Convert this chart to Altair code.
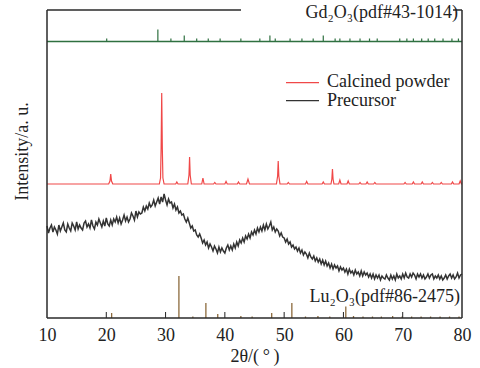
import altair as alt
import pandas as pd

FONT = "Liberation Serif, Times New Roman, serif"
TXT = "#222222"

# ---------------- data ----------------
X_TICKS = [10, 20, 30, 40, 50, 60, 70, 80]

# Precursor (amorphous) pattern, 2theta grid 10..80 step 0.25, intensity in plot units
PRE_X0 = 10.0
PRE_DX = 0.25
PRE_H = [
    92, 85, 90, 93,    # 10
    86, 91, 88, 84,    # 11
    93, 87, 91, 95,    # 12
    88, 86, 94, 90,    # 13
    87, 95, 92, 88,    # 14
    96, 89, 93, 90,    # 15
    88, 95, 97, 91,    # 16
    94, 90, 98, 92,    # 17
    89, 96, 93, 99,    # 18
    95, 91, 97, 92,    # 19
    100, 94, 92, 98,   # 20
    93, 99, 96, 101,   # 21
    95, 100, 94, 98,   # 22
    103, 97, 101, 96,  # 23
    99, 105, 102, 98,  # 24
    107, 101, 106, 104,# 25
    105, 111, 107, 112,# 26
    109, 115, 111, 113,# 27
    118, 112, 116, 120,# 28
    114, 121, 116, 124,# 29
    118, 113, 119, 115,# 30
    116, 110, 114, 108,# 31
    111, 105, 107, 103,# 32
    104, 99, 96, 100,  # 33
    95, 90, 92, 87,    # 34
    88, 83, 81, 84,    # 35
    80, 75, 78, 73,    # 36
    76, 70, 74, 71,    # 37
    67, 72, 69, 65,    # 38
    71, 66, 70, 67,    # 39
    65, 70, 73, 68,    # 40
    72, 68, 74, 70,    # 41
    76, 72, 78, 75,    # 42
    80, 76, 82, 79,    # 43
    84, 80, 86, 83,    # 44
    88, 84, 90, 86,    # 45
    91, 87, 93, 88,    # 46
    94, 89, 92, 96,    # 47
    88, 91, 86, 89,    # 48
    87, 82, 85, 81,    # 49
    80, 76, 79, 74,    # 50
    76, 71, 73, 69,    # 51
    71, 67, 70, 65,    # 52
    68, 63, 66, 64,    # 53
    60, 65, 61, 59,    # 54
    62, 57, 60, 56,    # 55
    59, 54, 58, 53,    # 56
    57, 52, 55, 50,    # 57
    54, 49, 53, 50,    # 58
    52, 47, 51, 48,    # 59
    50, 46, 49, 44,    # 60
    49, 45, 47, 43,    # 61
    48, 44, 46, 42,    # 62
    47, 42, 46, 43,    # 63
    45, 41, 44, 40,    # 64
    44, 39, 43, 40,    # 65
    43, 38, 42, 40,    # 66
    39, 43, 40, 38,    # 67
    43, 39, 42, 38,    # 68
    44, 40, 42, 39,    # 69
    44, 40, 45, 41,    # 70
    40, 44, 41, 45,    # 71
    43, 39, 44, 41,    # 72
    44, 40, 43, 39,    # 73
    41, 44, 40, 43,    # 74
    44, 39, 42, 40,    # 75
    43, 39, 42, 38,    # 76
    40, 43, 39, 42,    # 77
    44, 40, 43, 39,    # 78
    41, 45, 40, 43,    # 79
    44,                # 80
]

# Calcined powder pattern (2theta, intensity)
CAL_X = [10.0,
         20.4, 20.62, 20.75, 20.88, 21.1,
         28.95, 29.15, 29.25, 29.35, 29.45, 29.55, 29.75,
         31.7, 31.9, 32.1,
         33.75, 33.95, 34.05, 34.15, 34.35,
         36.1, 36.3, 36.5,
         38.1, 38.3, 38.5,
         40.0, 40.2, 40.4,
         42.1, 42.3, 42.5,
         43.65, 43.9, 44.15,
         48.7, 48.9, 49.0, 49.1, 49.3,
         50.5, 50.7, 50.9,
         53.6, 53.8, 54.0,
         56.4, 56.6, 56.8,
         57.9, 58.05, 58.15, 58.25, 58.4,
         59.2, 59.4, 59.6,
         60.6, 60.8, 61.0,
         62.6, 62.8, 63.0,
         63.8, 64.0, 64.2,
         65.1, 65.3, 65.5,
         70.2, 70.4, 70.6,
         71.6, 71.8, 72.0,
         73.1, 73.3, 73.5,
         74.8, 75.0, 75.2,
         76.3, 76.5, 76.7,
         78.2, 78.4, 78.6,
         79.5, 79.7, 79.9, 80.0]
CAL_H = [134,
         134, 137, 144, 137, 134,
         134, 140, 170, 225, 170, 140, 134,
         134, 136, 134,
         134, 143, 161, 143, 134,
         134, 140, 134,
         134, 135.5, 134,
         134, 136.5, 134,
         134, 136, 134,
         134, 139, 134,
         134, 142, 157, 142, 134,
         134, 135.5, 134,
         134, 136.5, 134,
         134, 136, 134,
         134, 139, 149, 139, 134,
         134, 138, 134,
         134, 137, 134,
         134, 135.5, 134,
         134, 136, 134,
         134, 135.5, 134,
         134, 135.5, 134,
         134, 136, 134,
         134, 136, 134,
         134, 135.5, 134,
         134, 135.5, 134,
         134, 136, 134,
         134, 137, 134, 134]

# Gd2O3 reference sticks (pdf#43-1014)
GD_BASE = 276.5
GD_POS = [20.07, 28.7, 30.9, 33.15, 35.25, 37.2, 39.2, 42.7, 45.9, 47.6, 48.5,
          51.0, 53.0, 54.9, 56.6, 58.6, 59.4, 61.1, 62.8, 64.4, 65.7, 69.5,
          70.7, 71.8, 73.2, 74.3, 75.4, 76.8, 78.3, 79.4]
GD_H = [3, 12, 3, 6, 3, 3, 3, 3, 3, 6, 3,
        3, 3, 3, 6, 3, 3, 3, 3, 3, 3, 3,
        3, 3, 3, 3, 3, 3, 3, 3]

# Lu2O3 reference sticks (pdf#86-2475)
LU_POS = [20.9, 32.25, 34.6, 36.8, 38.8, 42.7, 44.6, 47.9, 51.3, 53.6, 55.7,
          57.7, 60.4, 61.7, 63.3, 64.9, 66.4, 68.3, 69.9, 71.5, 73.1, 74.7,
          76.3, 77.9, 79.5]
LU_H = [5, 42, 1.5, 15, 4, 2, 1.5, 5, 15, 1.5, 2,
        1.5, 11.5, 2, 1.5, 1.5, 1.5, 2, 1.5, 1.5, 1.5, 1.5,
        1.5, 1.5, 1.5]

# ---------------- tables ----------------
pre_df = pd.DataFrame({"x": [PRE_X0 + PRE_DX * i for i in range(len(PRE_H))], "h": PRE_H})
cal_df = pd.DataFrame({"x": CAL_X, "h": CAL_H})
gd_df = pd.DataFrame({"x": GD_POS, "h": [GD_BASE] * len(GD_POS),
                      "h1": [GD_BASE + v for v in GD_H]})
lu_df = pd.DataFrame({"x": LU_POS, "h": [0] * len(LU_POS), "h1": LU_H})
tick_df = pd.DataFrame({"x": X_TICKS[1:-1]})
one = pd.DataFrame({"a": [0]})

W, H = 415, 308
xs = alt.Scale(domain=[10, 80], nice=False, zero=False)
ys = alt.Scale(domain=[0, 308], nice=False, zero=False)

x_axis = alt.Axis(values=X_TICKS, ticks=False, domain=False, grid=False,
                  labelFont=FONT, labelFontSize=18, labelColor=TXT, labelPadding=8,
                  labelFlush=False,
                  title="2θ/(\u2009°\u2009)", titleFont=FONT, titleFontSize=18,
                  titleFontWeight="normal", titleColor=TXT, titleY=43,
                  titleBaseline="alphabetic")
y_axis = alt.Axis(labels=False, ticks=False, domain=False, grid=False,
                  title="Intensity/a. u.", titleFont=FONT, titleFontSize=18,
                  titleFontWeight="normal", titleColor=TXT, titleX=-19.5, titleY=141,
                  titleBaseline="alphabetic", titleAlign="center")

cal = alt.Chart(cal_df).mark_line(color="#f04848", strokeWidth=1.2).encode(
    x=alt.X("x:Q", scale=xs, axis=x_axis),
    y=alt.Y("h:Q", scale=ys, axis=y_axis),
)
pre = alt.Chart(pre_df).mark_line(color="#333333", strokeWidth=1.5).encode(
    x=alt.X("x:Q", scale=xs), y=alt.Y("h:Q", scale=ys))

gd_base = alt.Chart(one).mark_rule(color="#2f7040", strokeWidth=1.3).encode(
    x=alt.value(0), x2=alt.value(W), y=alt.Y("gb:Q", scale=ys)
).transform_calculate(gb=str(GD_BASE))
gd = alt.Chart(gd_df).mark_rule(color="#2f7040", strokeWidth=1.2).encode(
    x=alt.X("x:Q", scale=xs), y=alt.Y("h:Q", scale=ys), y2="h1:Q")
lu = alt.Chart(lu_df).mark_rule(color="#8c6a3c", strokeWidth=1.3).encode(
    x=alt.X("x:Q", scale=xs), y=alt.Y("h:Q", scale=ys), y2="h1:Q")

ticks = alt.Chart(tick_df).mark_rule(color="#222", strokeWidth=1).encode(
    x=alt.X("x:Q", scale=xs), y=alt.value(H), y2=alt.value(H - 6))

FR = dict(color="#2a2a2a", strokeWidth=1.5)
frame = [
    alt.Chart(one).mark_rule(**FR).encode(x=alt.value(0), y=alt.value(0), y2=alt.value(H)),
    alt.Chart(one).mark_rule(**FR).encode(x=alt.value(W), y=alt.value(0), y2=alt.value(H)),
    alt.Chart(one).mark_rule(**FR).encode(x=alt.value(0), x2=alt.value(W), y=alt.value(H)),
    alt.Chart(one).mark_rule(**FR).encode(x=alt.value(0), x2=alt.value(194), y=alt.value(0)),
    alt.Chart(one).mark_rule(**FR).encode(x=alt.value(406), x2=alt.value(W), y=alt.value(0)),
]

TF = dict(font=FONT, fontSize=18, color=TXT)
LF = dict(font=FONT, fontSize=18, color=TXT)
labels = [
    alt.Chart(one).mark_text(text="Gd₂O₃(pdf#43-1014)", align="right",
                             baseline="alphabetic", **TF).encode(x=alt.value(411), y=alt.value(8)),
    alt.Chart(one).mark_text(text="Lu₂O₃(pdf#86-2475)", align="right",
                             baseline="alphabetic", **TF).encode(x=alt.value(413), y=alt.value(291.7)),
    alt.Chart(one).mark_rule(color="#f04848", strokeWidth=1.2).encode(
        x=alt.value(239), x2=alt.value(272), y=alt.value(72.7)),
    alt.Chart(one).mark_rule(color="#333333", strokeWidth=1.2).encode(
        x=alt.value(239), x2=alt.value(272), y=alt.value(90.7)),
    alt.Chart(one).mark_text(text="Calcined powder", align="left", baseline="middle",
                             **LF).encode(x=alt.value(280), y=alt.value(72)),
    alt.Chart(one).mark_text(text="Precursor", align="left", baseline="middle",
                             **LF).encode(x=alt.value(280), y=alt.value(91)),
]

chart = alt.layer(cal, gd_base, gd, lu, pre, ticks, *frame, *labels).properties(
    width=W, height=H,
    autosize=alt.AutoSizeParams(type="none"),
    padding={"left": 47, "top": 10, "right": 18, "bottom": 50},
    background="white",
).configure_view(stroke=None)

chart.save("out.html", embed_options={"renderer": "svg", "actions": False})
